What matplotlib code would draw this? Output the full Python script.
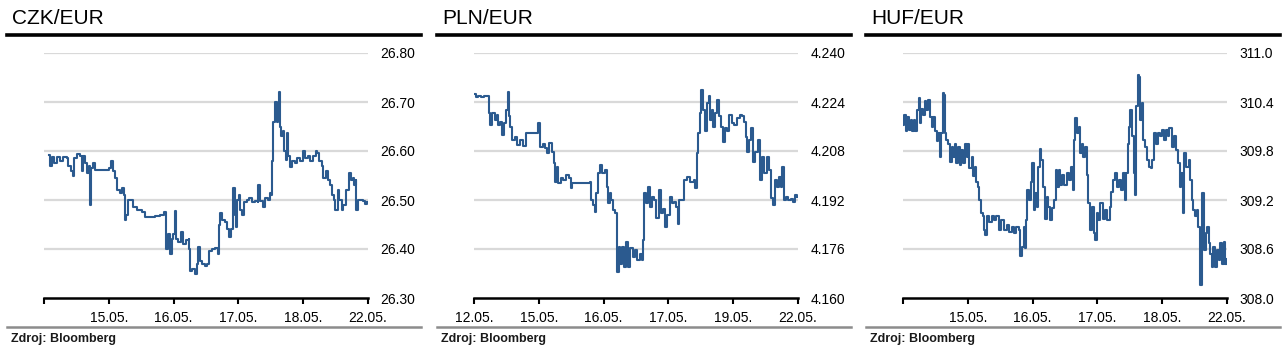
import matplotlib
matplotlib.use("Agg")
import matplotlib.pyplot as plt
from matplotlib.lines import Line2D

plt.rcParams['font.family'] = ['Liberation Sans', 'DejaVu Sans']

# Data (time in trading-day units from the first tick)
czk_t = [0.08, 0.10, 0.13, 0.16, 0.20, 0.24, 0.29, 0.35, 0.37, 0.41, 0.44, 0.47, 0.51, 0.55,
         0.58, 0.60, 0.63, 0.66, 0.70, 0.71, 0.72, 0.75, 0.78, 0.86, 0.94, 1.01, 1.03, 1.06,
         1.09, 1.13, 1.17, 1.21, 1.23, 1.25, 1.27, 1.30, 1.34, 1.37, 1.43, 1.51, 1.56, 1.63,
         1.71, 1.79, 1.85, 1.88, 1.89, 1.92, 1.94, 1.97, 1.99, 2.02, 2.04, 2.07, 2.11, 2.15,
         2.19, 2.23, 2.24, 2.26, 2.29, 2.33, 2.36, 2.38, 2.41, 2.44, 2.48, 2.52, 2.55, 2.59,
         2.64, 2.68, 2.70, 2.72, 2.75, 2.79, 2.83, 2.86, 2.88, 2.91, 2.92, 2.94, 2.96, 2.98,
         3.01, 3.03, 3.05, 3.09, 3.13, 3.17, 3.21, 3.26, 3.30, 3.31, 3.34, 3.38, 3.41, 3.45,
         3.48, 3.50, 3.52, 3.54, 3.56, 3.59, 3.61, 3.62, 3.64, 3.66, 3.69, 3.71, 3.73, 3.75,
         3.77, 3.80, 3.83, 3.87, 3.91, 3.95, 3.99, 4.03, 4.07, 4.11, 4.15, 4.19, 4.22, 4.25,
         4.29, 4.31, 4.35, 4.38, 4.42, 4.44, 4.47, 4.49, 4.53, 4.56, 4.60, 4.62, 4.66, 4.70,
         4.73, 4.77, 4.79, 4.81, 4.82, 4.84, 4.89, 4.93, 4.96, 4.98]
czk_v = [26.592, 26.570, 26.588, 26.575, 26.588, 26.580, 26.588, 26.585, 26.570, 26.560,
         26.550, 26.585, 26.594, 26.590, 26.560, 26.590, 26.575, 26.555, 26.570, 26.490,
         26.565, 26.575, 26.562, 26.562, 26.562, 26.565, 26.580, 26.560, 26.545, 26.520,
         26.515, 26.525, 26.510, 26.460, 26.470, 26.500, 26.500, 26.485, 26.480, 26.476,
         26.466, 26.466, 26.468, 26.470, 26.476, 26.460, 26.400, 26.430, 26.390, 26.420,
         26.430, 26.478, 26.420, 26.415, 26.435, 26.410, 26.418, 26.420, 26.400, 26.355,
         26.360, 26.350, 26.370, 26.404, 26.375, 26.370, 26.365, 26.370, 26.395, 26.400,
         26.402, 26.390, 26.450, 26.473, 26.460, 26.455, 26.440, 26.425, 26.440, 26.460,
         26.524, 26.470, 26.445, 26.500, 26.510, 26.480, 26.470, 26.495, 26.500, 26.505,
         26.496, 26.497, 26.495, 26.530, 26.497, 26.485, 26.505, 26.500, 26.515, 26.510,
         26.580, 26.660, 26.700, 26.660, 26.680, 26.720, 26.650, 26.630, 26.640, 26.600,
         26.582, 26.636, 26.590, 26.568, 26.580, 26.575, 26.585, 26.580, 26.599, 26.585,
         26.590, 26.580, 26.590, 26.600, 26.595, 26.580, 26.570, 26.545, 26.560, 26.540,
         26.530, 26.510, 26.500, 26.480, 26.520, 26.500, 26.480, 26.490, 26.520, 26.555,
         26.540, 26.545, 26.530, 26.540, 26.479, 26.500, 26.500, 26.498, 26.492, 26.495]

pln_t = [0.00, 0.03, 0.06, 0.11, 0.16, 0.22, 0.23, 0.25, 0.28, 0.32, 0.35, 0.37, 0.40, 0.43,
         0.46, 0.49, 0.52, 0.54, 0.56, 0.59, 0.63, 0.66, 0.71, 0.75, 0.78, 0.80, 0.84, 0.89,
         0.95, 0.99, 1.02, 1.06, 1.09, 1.12, 1.16, 1.20, 1.23, 1.25, 1.28, 1.30, 1.34, 1.38,
         1.42, 1.46, 1.49, 1.52, 1.58, 1.66, 1.74, 1.79, 1.81, 1.84, 1.87, 1.89, 1.92, 1.95,
         1.98, 2.02, 2.05, 2.07, 2.10, 2.12, 2.15, 2.18, 2.20, 2.21, 2.23, 2.25, 2.28, 2.31,
         2.34, 2.38, 2.41, 2.45, 2.48, 2.52, 2.56, 2.60, 2.61, 2.63, 2.65, 2.69, 2.72, 2.75,
         2.78, 2.81, 2.85, 2.88, 2.91, 2.95, 2.98, 3.02, 3.05, 3.09, 3.12, 3.15, 3.17, 3.21,
         3.24, 3.28, 3.34, 3.39, 3.41, 3.44, 3.46, 3.49, 3.51, 3.54, 3.57, 3.59, 3.62, 3.64,
         3.67, 3.69, 3.72, 3.75, 3.78, 3.81, 3.84, 3.88, 3.91, 3.94, 3.98, 4.02, 4.06, 4.10,
         4.13, 4.17, 4.20, 4.22, 4.25, 4.27, 4.30, 4.34, 4.38, 4.41, 4.44, 4.48, 4.52, 4.56,
         4.59, 4.62, 4.65, 4.68, 4.70, 4.73, 4.76, 4.78, 4.82, 4.85, 4.89, 4.92, 4.96, 4.98]
pln_v = [4.2266, 4.2256, 4.2260, 4.2256, 4.2260, 4.2258, 4.2204, 4.2165, 4.2204, 4.2182,
         4.2198, 4.2165, 4.2176, 4.2133, 4.2171, 4.2214, 4.2274, 4.2193, 4.2160, 4.2116,
         4.2127, 4.2100, 4.2116, 4.2097, 4.2097, 4.2138, 4.2138, 4.2140, 4.2138, 4.2171,
         4.2094, 4.2103, 4.2089, 4.2073, 4.2105, 4.2078, 4.2040, 4.1980, 4.2029, 4.1974,
         4.1991, 4.1985, 4.2002, 4.1991, 4.1958, 4.1974, 4.1977, 4.1974, 4.1977, 4.1980,
         4.1920, 4.1903, 4.1882, 4.1942, 4.2007, 4.2034, 4.2007, 4.2018, 4.1963, 4.1909,
         4.1942, 4.1920, 4.1887, 4.1876, 4.1822, 4.1685, 4.1767, 4.1712, 4.1767, 4.1701,
         4.1783, 4.1701, 4.1762, 4.1734, 4.1756, 4.1723, 4.1745, 4.1723, 4.1789, 4.1942,
         4.1909, 4.1963, 4.1898, 4.1931, 4.1920, 4.1860, 4.1953, 4.1876, 4.1892, 4.1832,
         4.1871, 4.1931, 4.1909, 4.1914, 4.1898, 4.1843, 4.1920, 4.1920, 4.1985, 4.1996,
         4.1980, 4.1985, 4.1958, 4.2073, 4.2138, 4.2204, 4.2280, 4.2214, 4.2144, 4.2236,
         4.2258, 4.2182, 4.2214, 4.2160, 4.2204, 4.2247, 4.2193, 4.2160, 4.2111, 4.2154,
         4.2144, 4.2198, 4.2171, 4.2165, 4.2187, 4.2198, 4.2193, 4.2176, 4.2127, 4.2078,
         4.2116, 4.2154, 4.2045, 4.2078, 4.2116, 4.1985, 4.2062, 4.2007, 4.2062, 4.2018,
         4.1925, 4.1903, 4.1985, 4.1963, 4.1996, 4.1963, 4.2029, 4.1920, 4.1931, 4.1920,
         4.1922, 4.1914, 4.1936, 4.1929]

huf_t = [0.00, 0.02, 0.04, 0.06, 0.09, 0.12, 0.14, 0.17, 0.19, 0.22, 0.24, 0.26, 0.28, 0.31,
         0.34, 0.36, 0.39, 0.41, 0.44, 0.46, 0.49, 0.52, 0.54, 0.57, 0.59, 0.61, 0.63, 0.65,
         0.67, 0.70, 0.72, 0.75, 0.77, 0.80, 0.82, 0.85, 0.88, 0.90, 0.93, 0.95, 0.98, 1.01,
         1.02, 1.06, 1.08, 1.11, 1.13, 1.16, 1.18, 1.20, 1.23, 1.25, 1.27, 1.29, 1.33, 1.37,
         1.40, 1.44, 1.48, 1.52, 1.56, 1.60, 1.64, 1.68, 1.71, 1.75, 1.79, 1.81, 1.84, 1.86,
         1.88, 1.90, 1.92, 1.94, 1.97, 1.99, 2.02, 2.04, 2.07, 2.09, 2.11, 2.13, 2.16, 2.19,
         2.22, 2.24, 2.27, 2.30, 2.33, 2.36, 2.38, 2.41, 2.43, 2.46, 2.49, 2.53, 2.56, 2.59,
         2.62, 2.64, 2.66, 2.68, 2.71, 2.73, 2.76, 2.78, 2.81, 2.84, 2.86, 2.89, 2.91, 2.94,
         2.96, 2.99, 3.01, 3.04, 3.08, 3.12, 3.15, 3.19, 3.21, 3.24, 3.27, 3.30, 3.33, 3.36,
         3.39, 3.42, 3.44, 3.47, 3.49, 3.51, 3.54, 3.56, 3.58, 3.60, 3.62, 3.64, 3.66, 3.69,
         3.71, 3.74, 3.76, 3.79, 3.82, 3.85, 3.87, 3.90, 3.93, 3.96, 3.99, 4.03, 4.06, 4.09,
         4.11, 4.15, 4.18, 4.22, 4.24, 4.27, 4.29, 4.32, 4.34, 4.37, 4.41, 4.43, 4.46, 4.48,
         4.51, 4.54, 4.56, 4.58, 4.59, 4.61, 4.62, 4.64, 4.67, 4.69, 4.72, 4.74, 4.77, 4.79,
         4.82, 4.84, 4.87, 4.89, 4.92, 4.95, 4.97, 5.00]
huf_v = [310.12, 310.24, 310.04, 310.22, 310.06, 310.18, 310.04, 310.18, 310.04, 310.30,
         310.45, 310.14, 310.32, 310.24, 310.41, 310.30, 310.43, 310.22, 310.10, 310.22,
         310.04, 309.92, 310.02, 309.73, 310.02, 310.51, 310.49, 310.02, 309.94, 309.89,
         309.67, 309.85, 309.73, 309.89, 309.65, 309.85, 309.63, 309.81, 309.65, 309.89,
         309.73, 309.89, 309.59, 309.73, 309.49, 309.61, 309.42, 309.36, 309.20, 309.04,
         309.00, 308.83, 308.77, 309.00, 308.93, 309.01, 308.95, 309.00, 308.83, 308.95,
         308.83, 308.89, 308.81, 308.87, 308.79, 308.87, 308.83, 308.52, 308.63, 308.87,
         308.61, 308.95, 309.32, 309.20, 309.42, 309.65, 309.08, 309.28, 309.12, 309.61,
         309.83, 309.69, 309.36, 308.97, 309.24, 309.12, 308.95, 309.10, 309.20, 309.57,
         309.36, 309.57, 309.38, 309.51, 309.38, 309.53, 309.44, 309.61, 309.32, 309.94,
         310.20, 310.02, 310.10, 309.77, 309.89, 309.73, 309.85, 309.51, 309.16, 308.83,
         309.12, 308.79, 308.71, 309.04, 308.95, 309.16, 308.97, 309.08, 308.95, 309.12,
         309.30, 309.44, 309.53, 309.36, 309.44, 309.32, 309.53, 309.20, 309.53, 309.89,
         310.10, 310.30, 309.98, 309.53, 309.26, 310.35, 310.73, 310.71, 310.18, 310.39,
         309.94, 309.85, 309.69, 309.61, 309.59, 309.69, 310.02, 309.89, 310.02, 309.98,
         310.06, 309.94, 310.06, 309.98, 310.08, 309.85, 309.98, 309.81, 309.65, 309.36,
         309.53, 309.04, 309.77, 309.61, 309.69, 309.44, 309.20, 309.08, 309.00, 309.08,
         308.87, 308.54, 308.16, 308.38, 309.28, 308.59, 308.79, 308.87, 308.67, 308.54,
         308.38, 308.63, 308.38, 308.59, 308.46, 308.67, 308.42, 308.69, 308.42, 308.48]

czk_ticks = [26.30, 26.40, 26.50, 26.60, 26.70, 26.80]
pln_ticks = [4.160, 4.176, 4.192, 4.208, 4.224, 4.240]
huf_ticks = [308.0, 308.6, 309.2, 309.8, 310.4, 311.0]

czk_dates = ["", "15.05.", "16.05.", "17.05.", "18.05.", "22.05."]
pln_dates = ["12.05.", "15.05.", "16.05.", "17.05.", "19.05.", "22.05."]
huf_dates = ["", "15.05.", "16.05.", "17.05.", "18.05.", "22.05."]

panels = [
    ("CZK/EUR", czk_t, czk_v, czk_ticks, "{:.2f}", czk_dates, 0),
    ("PLN/EUR", pln_t, pln_v, pln_ticks, "{:.3f}", pln_dates, 430),
    ("HUF/EUR", huf_t, huf_v, huf_ticks, "{:.1f}", huf_dates, 859),
]

W, H = 1283, 357
fig = plt.figure(figsize=(W / 100, H / 100), dpi=100)
blue = '#2b5a8f'

for title, t, v, yt, fmt, dates, ox in panels:
    ax = fig.add_axes([(44 + ox) / W, 1 - 298 / H, 324 / W, 245 / H])
    ax.set_facecolor('none')
    for y in yt[1:]:
        ax.axhline(y, color='#d9d9d9', lw=1.6, zorder=0)
    ax.plot(t, v, color=blue, lw=1.5, drawstyle='steps-post', zorder=2)
    ax.set_xlim(0, 5)
    ax.set_ylim(yt[0], yt[-1])
    for s in ['top', 'left', 'right']:
        ax.spines[s].set_visible(False)
    ax.spines['bottom'].set_linewidth(1.8)
    ax.spines['bottom'].set_color('black')
    ax.set_xticks(range(6))
    ax.set_xticklabels(dates)
    ax.tick_params(axis='x', length=4, width=1.5, pad=5, labelsize=10, colors='black')
    ax.yaxis.tick_right()
    ax.set_yticks(yt)
    ax.set_yticklabels([fmt.format(y) for y in yt])
    ax.tick_params(axis='y', length=0, pad=9, labelsize=10)
    for lab in ax.get_yticklabels():
        lab.set_horizontalalignment('left')

    # headline, rules and source
    fig.text((12 + ox) / W, 1 - 24 / H, title, fontsize=15, ha='left', va='baseline')
    fig.add_artist(Line2D([(7 + ox) / W, (421 + ox) / W], [1 - 34.5 / H, 1 - 34.5 / H],
                          color='black', lw=2.6))
    fig.add_artist(Line2D([(7 + ox) / W, (421 + ox) / W], [1 - 326.5 / H, 1 - 326.5 / H],
                          color='#8c8c8c', lw=1.8))
    fig.text((11 + ox) / W, 1 - 339 / H, "Zdroj: Bloomberg", fontsize=9, fontweight='bold',
             ha='left', va='center', color='#1a1a1a')

fig.savefig('out.png', dpi=100)
